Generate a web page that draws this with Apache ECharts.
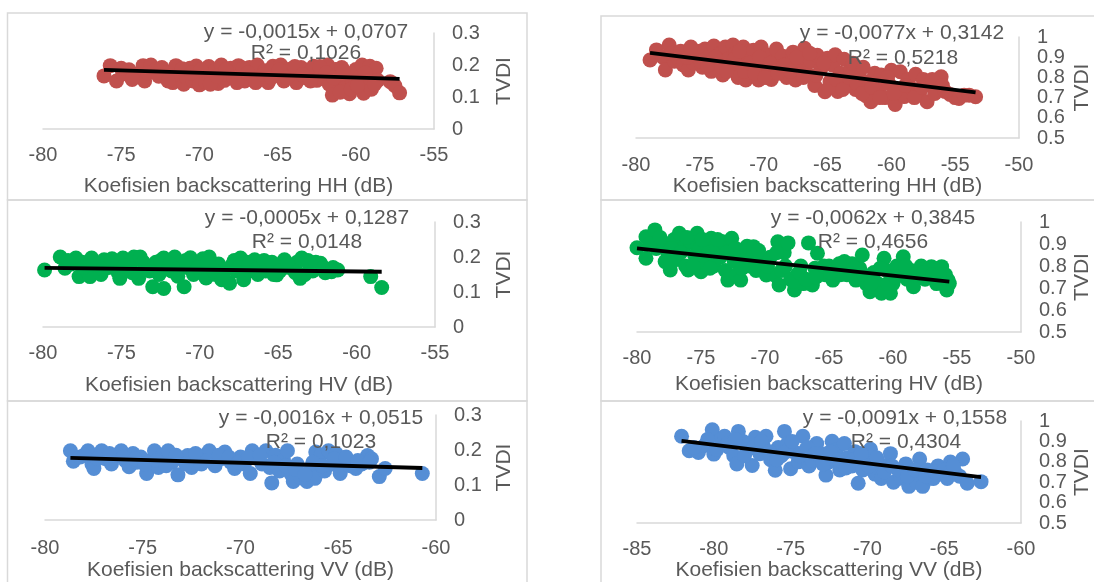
<!DOCTYPE html>
<html>
<head>
<meta charset="utf-8">
<script src="https://cdn.jsdelivr.net/npm/echarts@6/dist/echarts.min.js"></script>
<style>
html,body{margin:0;padding:0;background:#fff;}
#chart{width:1094px;height:582px;}
</style>
</head>
<body>
<div id="chart"></div>
<script>
// ---------- DATA ----------
const hhLeftX = [-76.1,-75.7,-75.3,-74.9,-74.5,-74.1,-73.6,-73.5,-73.1,-72.8,-72.4,-72.1,-71.9,-71.7,-71.5,-71.3,-71.0,-70.8,-70.6,-70.4,-70.2,-70.0,-69.8,-69.6,-69.4,-69.2,-69.0,-68.8,-68.6,-68.4,-68.2,-68.0,-67.8,-67.5,-67.3,-67.1,-66.8,-66.6,-66.3,-66.1,-65.8,-65.6,-65.3,-65.0,-64.8,-64.6,-64.3,-64.0,-63.8,-63.5,-63.2,-63.0,-62.7,-62.5,-62.2,-62.0,-61.8,-61.7,-61.5,-61.3,-61.1,-60.9,-60.7,-60.6,-60.4,-60.2,-60.0,-59.8,-59.6,-59.5,-59.3,-59.1,-59.0,-58.9,-58.7,-58.6,-57.8,-57.5,-57.2,
  -75.0,-74.3,-73.3,-72.6,-72.0,-71.1,-70.5,-69.9,-69.3,-68.9,-68.3,-67.6,-67.2,-66.9,-66.4,-65.9,-65.4,-64.9,-64.4,-63.9,-63.4,-62.9,-62.3,-61.9,-61.4,-61.0,-60.8,-60.3,-59.9,-59.4,-58.8];
const hhLeftY = [0.166,0.198,0.150,0.172,0.185,0.168,0.198,0.150,0.200,0.185,0.192,0.175,0.155,0.145,0.198,0.170,0.140,0.160,0.190,0.150,0.197,0.138,0.172,0.148,0.195,0.160,0.182,0.142,0.200,0.152,0.170,0.190,0.160,0.198,0.176,0.150,0.192,0.165,0.200,0.155,0.182,0.145,0.196,0.168,0.200,0.150,0.186,0.170,0.145,0.192,0.160,0.176,0.196,0.152,0.182,0.166,0.200,0.140,0.106,0.186,0.155,0.192,0.128,0.170,0.110,0.145,0.186,0.160,0.200,0.112,0.140,0.196,0.124,0.172,0.190,0.152,0.148,0.135,0.113,
  0.190,0.155,0.175,0.165,0.150,0.188,0.175,0.185,0.140,0.165,0.185,0.145,0.190,0.175,0.145,0.170,0.160,0.185,0.160,0.195,0.170,0.150,0.195,0.175,0.160,0.115,0.180,0.125,0.135,0.175,0.140];

const hhRightX = [-78.9,-78.4,-77.9,-77.7,-77.4,-77.0,-76.7,-76.3,-75.9,-75.5,-75.2,-75.0,-74.8,-74.6,-74.3,-74.1,-73.9,-73.6,-73.4,-73.2,-73.0,-72.8,-72.6,-72.4,-72.2,-72.0,-71.8,-71.6,-71.4,-71.2,-71.0,-70.8,-70.6,-70.4,-70.2,-70.0,-69.8,-69.6,-69.4,-69.2,-69.0,-68.7,-68.5,-68.2,-68.0,-67.7,-67.5,-67.2,-67.0,-66.8,-66.6,-66.3,-66.0,-65.8,-65.5,-65.2,-65.0,-64.8,-64.6,-64.4,-64.2,-64.0,-63.7,-63.5,-63.2,-63.0,-62.8,-62.5,-62.2,-62.0,-61.8,-61.6,-61.3,-61.0,-60.8,-60.5,-60.2,-60.0,-59.7,-59.5,-59.3,-59.0,-58.7,-58.4,-58.1,-57.8,-57.5,-57.2,-56.9,-56.6,-56.3,-56.1,-55.8,-55.4,-55.0,-54.7,-54.3,-53.9,-53.4,
  -77.2,-76.5,-76.0,-75.7,-74.9,-74.4,-73.8,-73.3,-72.9,-72.3,-71.9,-71.5,-71.1,-70.7,-70.3,-69.9,-69.5,-68.9,-68.4,-67.9,-67.4,-66.9,-66.4,-65.9,-65.3,-64.9,-64.3,-63.8,-63.3,-62.7,-62.3,-61.5,-60.9,-60.3,-59.8,-58.9,-58.2,-57.6,-56.8,-56.0];
const hhRightY = [0.886,0.936,0.900,0.837,0.960,0.880,0.895,0.862,0.837,0.870,0.905,0.930,0.850,0.940,0.900,0.830,0.955,0.870,0.920,0.812,0.950,0.890,0.845,0.960,0.920,0.800,0.870,0.950,0.787,0.905,0.840,0.935,0.880,0.787,0.950,0.860,0.912,0.830,0.790,0.880,0.940,0.850,0.905,0.800,0.870,0.925,0.787,0.860,0.900,0.944,0.820,0.880,0.760,0.910,0.845,0.729,0.895,0.780,0.860,0.912,0.730,0.820,0.890,0.760,0.840,0.870,0.740,0.800,0.850,0.710,0.780,0.680,0.820,0.740,0.812,0.700,0.770,0.835,0.666,0.740,0.828,0.705,0.790,0.745,0.815,0.720,0.790,0.680,0.760,0.720,0.790,0.803,0.730,0.715,0.700,0.696,0.712,0.712,0.704,
  0.920,0.930,0.900,0.950,0.880,0.860,0.900,0.850,0.830,0.890,0.930,0.830,0.870,0.820,0.900,0.800,0.870,0.820,0.860,0.830,0.900,0.800,0.920,0.810,0.870,0.750,0.790,0.740,0.800,0.770,0.720,0.750,0.700,0.800,0.720,0.760,0.700,0.750,0.790,0.760];

const hvLeftX = [-79.9,-78.9,-78.6,-78.2,-77.9,-77.7,-77.5,-77.2,-76.9,-77.0,-76.6,-76.3,-76.1,-75.8,-75.5,-75.2,-75.1,-74.9,-74.6,-74.4,-74.2,-73.9,-73.8,-73.5,-73.2,-73.0,-72.8,-72.6,-72.3,-72.3,-72.1,-71.8,-71.6,-71.4,-71.2,-71.0,-70.8,-70.6,-70.4,-70.2,-70.0,-69.8,-69.6,-69.4,-69.2,-69.0,-68.8,-68.6,-68.4,-68.1,-67.9,-67.7,-67.4,-67.2,-67.0,-66.8,-66.5,-66.3,-66.0,-65.8,-65.6,-65.3,-65.1,-64.8,-64.6,-64.3,-64.0,-63.8,-63.6,-63.5,-63.3,-63.0,-62.8,-62.5,-62.3,-62.0,-61.8,-61.5,-61.2,-59.1,-58.4,
  -78.4,-77.4,-76.8,-76.2,-75.6,-74.8,-74.3,-73.6,-72.9,-72.5,-71.9,-71.5,-70.9,-70.1,-69.5,-69.1,-68.5,-67.8,-67.5,-66.9,-66.4,-65.9,-65.4,-64.9,-64.4,-63.9,-63.1,-62.6,-62.1,-61.6];
const hvLeftY = [0.163,0.200,0.168,0.180,0.197,0.144,0.185,0.160,0.197,0.144,0.175,0.150,0.192,0.170,0.185,0.155,0.139,0.197,0.165,0.180,0.200,0.139,0.200,0.170,0.160,0.115,0.185,0.150,0.110,0.197,0.175,0.160,0.200,0.145,0.185,0.115,0.170,0.198,0.150,0.180,0.160,0.195,0.140,0.200,0.170,0.150,0.180,0.135,0.165,0.125,0.180,0.160,0.197,0.135,0.185,0.160,0.192,0.150,0.178,0.160,0.173,0.150,0.149,0.180,0.192,0.170,0.165,0.185,0.139,0.197,0.150,0.175,0.160,0.170,0.182,0.155,0.163,0.170,0.163,0.144,0.113,
  0.190,0.170,0.185,0.165,0.195,0.175,0.155,0.185,0.170,0.190,0.180,0.165,0.190,0.170,0.185,0.160,0.150,0.190,0.170,0.175,0.165,0.190,0.185,0.160,0.180,0.155,0.190,0.185,0.170,0.158];

const hvRightX = [-80.0,-79.3,-79.3,-78.6,-78.5,-78.0,-77.6,-77.4,-77.1,-76.9,-76.7,-76.4,-76.2,-76.0,-75.8,-75.5,-75.3,-75.1,-75.0,-74.8,-74.6,-74.4,-74.2,-74.0,-73.8,-73.5,-73.3,-73.1,-72.9,-72.7,-72.6,-72.4,-72.2,-71.9,-71.7,-71.4,-71.2,-70.9,-70.7,-70.4,-70.2,-69.9,-69.6,-69.3,-69.0,-68.9,-68.7,-68.5,-68.2,-68.0,-67.7,-67.5,-67.2,-67.0,-66.6,-66.3,-66.1,-65.9,-65.6,-65.3,-65.0,-64.7,-64.4,-64.1,-63.8,-63.5,-63.2,-62.9,-62.6,-62.4,-62.1,-61.8,-61.5,-61.2,-60.9,-60.7,-60.5,-60.2,-60.0,-59.7,-59.4,-59.2,-58.9,-58.6,-58.4,-58.1,-57.8,-57.5,-57.3,-57.0,-56.6,-56.2,-55.9,-55.7,-55.8,-55.6,
  -79.0,-78.2,-77.8,-77.3,-76.6,-76.1,-75.6,-74.9,-74.3,-73.7,-73.0,-72.3,-71.8,-71.0,-70.5,-69.8,-69.1,-68.4,-67.8,-67.3,-66.8,-66.0,-65.4,-64.9,-64.2,-63.6,-63.0,-62.3,-61.7,-61.0,-60.4,-59.8,-59.0,-58.3,-57.6,-56.9,-56.4];
const hvRightY = [0.883,0.933,0.835,0.964,0.880,0.900,0.860,0.782,0.920,0.830,0.949,0.880,0.800,0.782,0.910,0.850,0.949,0.880,0.774,0.820,0.900,0.860,0.926,0.800,0.880,0.840,0.910,0.780,0.736,0.870,0.926,0.820,0.760,0.736,0.850,0.890,0.800,0.888,0.780,0.830,0.800,0.759,0.840,0.760,0.910,0.714,0.780,0.860,0.905,0.740,0.691,0.760,0.800,0.720,0.905,0.714,0.790,0.858,0.780,0.760,0.800,0.736,0.790,0.760,0.820,0.780,0.810,0.736,0.790,0.850,0.720,0.683,0.770,0.720,0.676,0.835,0.780,0.676,0.720,0.800,0.760,0.842,0.740,0.780,0.706,0.760,0.800,0.740,0.780,0.797,0.720,0.797,0.760,0.736,0.691,0.720,
  0.900,0.930,0.820,0.880,0.860,0.930,0.800,0.920,0.790,0.920,0.860,0.880,0.790,0.840,0.870,0.800,0.860,0.800,0.730,0.770,0.740,0.750,0.800,0.770,0.810,0.760,0.790,0.760,0.720,0.790,0.720,0.750,0.800,0.760,0.770,0.760,0.760];

const vvLeftX = [-78.7,-78.55,-78.2,-77.8,-77.6,-77.5,-77.1,-76.9,-76.6,-76.4,-76.1,-75.9,-75.7,-75.5,-75.3,-75.1,-74.8,-74.6,-74.4,-74.2,-74.0,-73.7,-73.5,-73.2,-73.0,-72.7,-72.5,-72.2,-72.0,-71.8,-71.6,-71.3,-71.0,-70.8,-70.5,-70.3,-70.0,-69.8,-69.5,-69.4,-69.1,-68.9,-68.7,-68.5,-68.4,-68.2,-68.0,-67.8,-67.6,-67.4,-67.3,-67.1,-66.9,-66.6,-66.4,-66.2,-66.15,-66.0,-65.9,-65.7,-65.5,-65.3,-65.1,-64.9,-64.7,-64.4,-64.1,-63.8,-63.5,-63.3,-62.9,-62.6,-60.7,
  -78.0,-77.3,-76.7,-76.0,-75.4,-74.9,-74.3,-73.8,-73.3,-72.8,-72.3,-71.7,-71.1,-70.6,-70.1,-69.6,-69.0,-68.3,-67.7,-67.2,-66.7,-66.3,-65.8,-65.2,-64.6,-64.0,-63.4];
const vvLeftY = [0.198,0.168,0.180,0.198,0.160,0.147,0.198,0.175,0.160,0.185,0.198,0.170,0.152,0.190,0.165,0.180,0.133,0.170,0.198,0.150,0.185,0.198,0.165,0.129,0.175,0.184,0.150,0.170,0.160,0.185,0.198,0.155,0.175,0.194,0.165,0.147,0.180,0.160,0.133,0.198,0.175,0.160,0.198,0.150,0.106,0.185,0.140,0.170,0.198,0.130,0.110,0.160,0.120,0.110,0.145,0.119,0.194,0.170,0.184,0.140,0.198,0.160,0.189,0.133,0.165,0.155,0.147,0.160,0.184,0.175,0.124,0.147,0.133,
  0.185,0.175,0.190,0.180,0.175,0.160,0.170,0.155,0.185,0.160,0.190,0.170,0.185,0.180,0.165,0.180,0.185,0.165,0.155,0.145,0.130,0.165,0.155,0.175,0.180,0.170,0.165];

const vvRightX = [-82.1,-81.6,-81.0,-80.6,-80.1,-80.0,-79.7,-79.3,-79.0,-78.7,-78.5,-78.4,-78.1,-77.8,-77.5,-77.3,-77.0,-76.8,-76.6,-76.3,-76.0,-75.8,-75.6,-75.4,-75.2,-75.0,-74.8,-74.5,-74.2,-74.0,-73.8,-73.6,-73.3,-73.0,-72.7,-72.5,-72.3,-72.0,-71.8,-71.5,-71.3,-71.0,-70.8,-70.6,-70.3,-70.0,-69.8,-69.5,-69.3,-69.1,-68.8,-68.5,-68.3,-68.0,-67.8,-67.5,-67.3,-67.0,-66.8,-66.6,-66.4,-66.1,-65.9,-65.7,-65.4,-65.1,-64.8,-64.6,-64.3,-64.0,-63.8,-63.5,-62.6,
  -81.3,-80.4,-79.8,-79.1,-78.6,-78.0,-77.4,-76.9,-76.4,-75.9,-75.3,-74.9,-74.4,-73.9,-73.4,-72.9,-72.4,-71.9,-71.4,-70.9,-70.4,-69.9,-69.4,-68.9,-68.4,-67.9,-67.4,-66.9,-66.2,-65.6,-65.0,-64.4];
const vvRightY = [0.925,0.854,0.846,0.880,0.957,0.838,0.900,0.925,0.870,0.830,0.790,0.949,0.900,0.860,0.782,0.920,0.840,0.880,0.925,0.810,0.759,0.870,0.830,0.949,0.890,0.766,0.850,0.800,0.925,0.860,0.780,0.806,0.890,0.840,0.735,0.800,0.901,0.860,0.760,0.890,0.820,0.780,0.850,0.695,0.760,0.830,0.862,0.740,0.800,0.719,0.780,0.840,0.700,0.760,0.720,0.790,0.680,0.740,0.700,0.814,0.680,0.760,0.720,0.719,0.780,0.740,0.719,0.799,0.750,0.730,0.814,0.695,0.703,
  0.870,0.910,0.860,0.890,0.910,0.830,0.870,0.900,0.850,0.810,0.850,0.900,0.830,0.870,0.840,0.790,0.850,0.810,0.770,0.810,0.840,0.780,0.820,0.750,0.780,0.760,0.730,0.760,0.730,0.750,0.760,0.780];

const slopes = [-0.0015, -0.0077, -0.0005, -0.0062, -0.0016, -0.0091];
const intercepts = [0.0707, 0.3142, 0.1287, 0.3845, 0.0515, 0.1558];
const rSquared = [0.1026, 0.5218, 0.0148, 0.4656, 0.1023, 0.4304];
const xTitles = ['Koefisien backscattering HH (dB)','Koefisien backscattering HH (dB)','Koefisien backscattering HV (dB)','Koefisien backscattering HV (dB)','Koefisien backscattering VV (dB)','Koefisien backscattering VV (dB)'];
const yTitle = 'TVDI';
const xMins = [-80, -80, -80, -80, -80, -85];
const xMaxs = [-55, -50, -55, -50, -60, -60];
const yMins = [0, 0.5, 0, 0.5, 0, 0.5];
const yMaxs = [0.3, 1, 0.3, 1, 0.3, 1];
const yIntervals = [0.1, 0.1, 0.1, 0.1, 0.1, 0.1];
const xInterval = 5;

// ---------- LAYOUT / STYLE ----------
const seriesX = [hhLeftX, hhRightX, hvLeftX, hvRightX, vvLeftX, vvRightX];
const seriesY = [hhLeftY, hhRightY, hvLeftY, hvRightY, vvLeftY, vvRightY];
const colors = ['#c0504d','#c0504d','#00b050','#00b050','#558ed5','#558ed5'];
const layout = [
  {grid:{left:43,top:33,width:391,height:96}, box:[7.5,13,519.5,187], eq:[306,32], r:[306,53], xm:16, xng:47, yng:60},
  {grid:{left:636,top:37,width:386,height:101}, box:[601,16,520,184], eq:[902,33], r:[903,58], xm:17, xng:34, yng:53},
  {grid:{left:43,top:222,width:392,height:105}, box:[7.5,200,519.5,201], eq:[307,218], r:[307,242], xm:16, xng:48, yng:59},
  {grid:{left:637,top:222,width:385,height:110}, box:[601,200,520,201], eq:[873,218], r:[873,242], xm:16, xng:42, yng:51},
  {grid:{left:45,top:415,width:391,height:108}, box:[7.5,401,519.5,220], eq:[321,418], r:[321,442], xm:18, xng:40, yng:58},
  {grid:{left:637,top:421,width:385,height:105}, box:[601,401,520,220], eq:[905,418], r:[906,442], xm:16, xng:36, yng:51}
];
const FONT = '"Liberation Sans", Arial, sans-serif';
const TXT = '#595959';
const LINE = '#d9d9d9';

function fmt(v){ return Math.abs(v).toFixed(4).replace('.', ','); }

const grids = [], xAxes = [], yAxes = [], series = [], graphics = [];
layout.forEach((L, i) => {
  grids.push(Object.assign({containLabel:false}, L.grid));
  xAxes.push({
    type:'value', gridIndex:i, min:xMins[i], max:xMaxs[i], interval:xInterval,
    name:xTitles[i], nameLocation:'middle', nameGap:L.xng,
    nameTextStyle:{color:TXT, fontSize:21, fontFamily:FONT},
    axisLine:{show:true, onZero:false, lineStyle:{color:LINE, width:1.5}},
    axisTick:{show:false}, splitLine:{show:false},
    axisLabel:{color:TXT, fontSize:20, fontFamily:FONT, margin:L.xm, showMinLabel:true, showMaxLabel:true}
  });
  yAxes.push({
    type:'value', gridIndex:i, position:'right', min:yMins[i], max:yMaxs[i], interval:yIntervals[i],
    name:yTitle, nameLocation:'middle', nameGap:L.yng, nameRotate:90,
    nameTextStyle:{color:TXT, fontSize:21, fontFamily:FONT},
    axisLine:{show:true, onZero:false, lineStyle:{color:LINE, width:1.5}},
    axisTick:{show:false}, splitLine:{show:false},
    axisLabel:{color:TXT, fontSize:20, fontFamily:FONT, margin:18, hideOverlap:false,
      formatter: v => String(parseFloat(v.toFixed(2)))}
  });
  const xs = seriesX[i], ys = seriesY[i];
  series.push({
    type:'scatter', xAxisIndex:i, yAxisIndex:i, symbol:'circle', symbolSize:15,
    itemStyle:{color:colors[i], opacity:1}, silent:true, animation:false,
    data: xs.map((x, k) => [x, ys[k]])
  });
  const x0 = Math.min(...xs), x1 = Math.max(...xs);
  series.push({
    type:'line', xAxisIndex:i, yAxisIndex:i, showSymbol:false, symbol:'none', silent:true, animation:false,
    lineStyle:{color:'#000', width:3.8}, z:3,
    data:[[x0, slopes[i]*x0 + intercepts[i]], [x1, slopes[i]*x1 + intercepts[i]]]
  });
  graphics.push({type:'rect', silent:true, z:0,
    shape:{x:L.box[0], y:L.box[1], width:L.box[2], height:L.box[3]},
    style:{fill:'none', stroke:LINE, lineWidth:1.5}});
  const eqText = 'y = ' + (slopes[i] < 0 ? '-' : '') + fmt(slopes[i]) + 'x ' + (intercepts[i] < 0 ? '- ' : '+ ') + fmt(intercepts[i]);
  graphics.push({type:'text', silent:true, z:100, x:L.eq[0], y:L.eq[1],
    style:{text:eqText, fill:TXT, font:'21px ' + FONT, align:'center', verticalAlign:'middle', textAlign:'center', textVerticalAlign:'middle'}});
  graphics.push({type:'text', silent:true, z:100, x:L.r[0], y:L.r[1],
    style:{text:'R² = ' + fmt(rSquared[i]), fill:TXT, font:'21px ' + FONT, align:'center', verticalAlign:'middle', textAlign:'center', textVerticalAlign:'middle'}});
});

const chart = echarts.init(document.getElementById('chart'), null, {renderer:'canvas'});
chart.setOption({
  animation:false,
  backgroundColor:'#ffffff',
  grid:grids, xAxis:xAxes, yAxis:yAxes, series:series,
  graphic:{elements:graphics}
});
</script>
</body>
</html>
